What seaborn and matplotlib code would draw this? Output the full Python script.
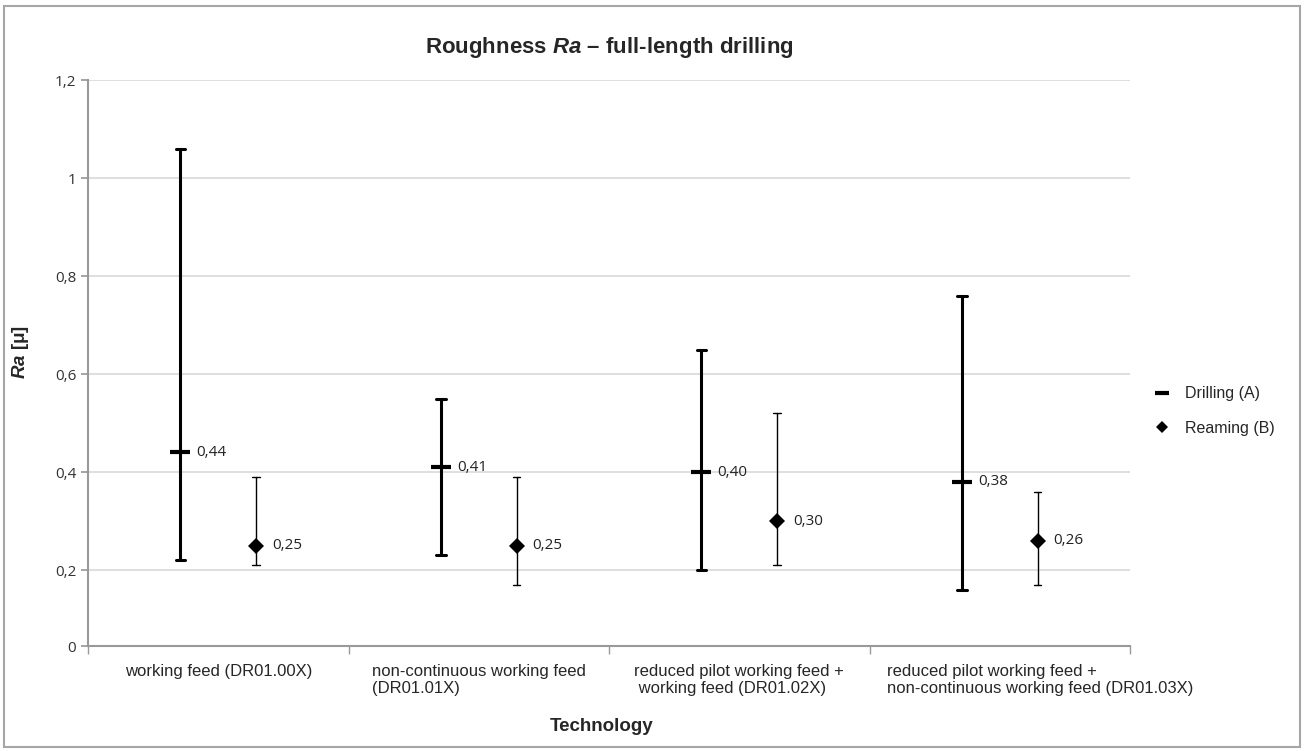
import numpy as np
import pandas as pd
import matplotlib
matplotlib.use("Agg")
import matplotlib.pyplot as plt
import matplotlib.patches as patches
import matplotlib.transforms as mtransforms
from matplotlib.lines import Line2D
import seaborn as sns

technologies = ["working feed (DR01.00X)",
                "non-continuous working feed\n(DR01.01X)",
                "reduced pilot working feed +\n working feed (DR01.02X)",
                "reduced pilot working feed +\nnon-continuous working feed (DR01.03X)"]
processes = ["Drilling (A)", "Reaming (B)"]

drill_mean = [0.44, 0.41, 0.40, 0.38]
drill_min = [0.22, 0.23, 0.20, 0.16]
drill_max = [1.06, 0.55, 0.65, 0.76]

ream_mean = [0.25, 0.25, 0.30, 0.26]
ream_min = [0.21, 0.17, 0.21, 0.17]
ream_max = [0.39, 0.39, 0.52, 0.36]

ytick_vals = [0.2, 0.4, 0.6, 0.8, 1.0, 1.2]
ytick_text = ["0,2", "0,4", "0,6", "0,8", "1", "1,2"]


def long_form(proc, lo, mid, hi):
    # min / mean / max per technology -> median is the mean, 100% interval is min..max
    rows = []
    for t, a, b, c in zip(technologies, lo, mid, hi):
        for v in (a, b, c):
            rows.append({"tech": t, "process": proc, "ra": v})
    return rows


df = pd.DataFrame(long_form(processes[0], drill_min, drill_mean, drill_max)
                  + long_form(processes[1], ream_min, ream_mean, ream_max))

sns.set_theme(style="white")
plt.rcParams["font.family"] = ["Liberation Sans", "DejaVu Sans"]
plt.rcParams["mathtext.fontset"] = "custom"
plt.rcParams["mathtext.it"] = "Liberation Sans:italic:bold"
plt.rcParams["mathtext.rm"] = "Liberation Sans:bold"

fig = plt.figure(figsize=(13.04, 7.51), dpi=100)
ax = fig.add_axes([88 / 1304, 1 - 646 / 751, 1042 / 1304, 566 / 751])

styles = {
    processes[0]: dict(marker="_", ms=15, mew=3.0, lw=2.2, cap=0.035),
    processes[1]: dict(marker="D", ms=8.5, mew=0, lw=1.0, cap=0.028),
}
for proc in processes:
    st = styles[proc]
    sns.pointplot(data=df[df["process"] == proc], x="tech", y="ra",
                  hue="process", hue_order=processes, order=technologies,
                  estimator="median", errorbar=("pi", 100), dodge=0.29,
                  markers=st["marker"], linestyles="none",
                  palette=["black", "black"], capsize=st["cap"],
                  err_kws={"linewidth": st["lw"]},
                  markersize=st["ms"], markeredgewidth=st["mew"],
                  legend=False, ax=ax)

# value labels next to each mean
offsets = [-0.145, 0.145]
for k, means in enumerate([drill_mean, ream_mean]):
    for i, m in enumerate(means):
        ax.annotate(f"{m:.2f}".replace(".", ","), (i + offsets[k], m),
                    xytext=(16, 0), textcoords="offset pixels",
                    va="center", ha="left", fontsize=11,
                    family="Open Sans", color="#222222")

ax.set_ylim(0.045, 1.2)
ax.set_yticks([0.045] + ytick_vals)
ax.set_yticklabels(["0"] + ytick_text, family="Open Sans", fontsize=11,
                   color="#333333")
for y in ytick_vals:
    ax.axhline(y, color="#d9d9d9", lw=1.2, zorder=0)

ax.set_xlim(-0.5, 3.5)
ax.set_xticks(range(4))
ax.set_xticklabels(technologies, fontsize=12, multialignment="left")
ax.set_xticks([-0.5, 0.5, 1.5, 2.5, 3.5], minor=True)
ax.tick_params(axis="x", which="major", length=0, pad=13)
ax.tick_params(axis="x", which="minor", length=6, color="#999999",
               direction="out", bottom=True)
ax.tick_params(axis="y", length=5, color="#999999", direction="out", left=True)
# last label sits a bit to the right in the original
last = ax.get_xticklabels()[3]
last.set_transform(last.get_transform()
                   + mtransforms.ScaledTranslation(0.4, 0, fig.dpi_scale_trans))

for s in ["top", "right"]:
    ax.spines[s].set_visible(False)
for s in ["left", "bottom"]:
    ax.spines[s].set_color("#999999")
    ax.spines[s].set_linewidth(1.5)

ax.set_xlabel("Technology", fontsize=13.5, fontweight="bold")
ax.xaxis.set_label_coords(0.493, -0.127)
ax.set_ylabel("$Ra$ [μ]", fontsize=13.5, fontweight="bold")
ax.yaxis.set_label_coords(-0.055, 0.52)

ax.text(0.5, (646 - 47) / 566, "Roughness $Ra$ – full-length drilling",
        transform=ax.transAxes, ha="center", va="center",
        fontsize=16, fontweight="bold")

handles = [Line2D([], [], color="black", marker="_", ls="none", ms=10, mew=3),
           Line2D([], [], color="black", marker="D", ls="none", ms=6, mew=0)]
fig.legend(handles, processes, loc="center left",
           bbox_to_anchor=(1140 / 1304, 1 - 411 / 751), frameon=False,
           fontsize=11.5, handlelength=1.0, handletextpad=0.9, labelspacing=1.2)

fig.patches.append(patches.Rectangle((4 / 1304, 4 / 751), 1296 / 1304, 741 / 751,
                                     transform=fig.transFigure, fill=False,
                                     edgecolor="#a6a6a6", lw=1.5))

fig.savefig("out.png", dpi=100)
